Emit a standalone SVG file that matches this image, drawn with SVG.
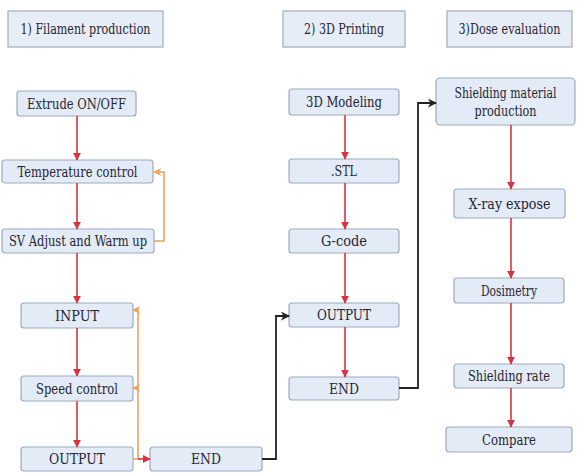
<svg xmlns="http://www.w3.org/2000/svg" width="577" height="473" viewBox="0 0 577 473">
<style>
.hdr{fill:#e6edf7;stroke:#a3abbb;stroke-width:1.2}
.box{fill:#e3ebf6;stroke:#9ea9bb;stroke-width:1.2}
.t{font-family:'DejaVu Serif Condensed','DejaVu Serif',serif;font-stretch:condensed;font-size:14px;fill:#262633;text-anchor:middle;dominant-baseline:central}
.red{stroke:#d8333f;stroke-width:1.6;fill:none}
.org{stroke:#eaa35a;stroke-width:1.6;fill:none}
.blk{stroke:#222;stroke-width:1.8;fill:none}
</style>
<defs>
<marker id="mr" viewBox="0 0 10 10" refX="9" refY="5" markerWidth="5" markerHeight="5" orient="auto"><path d="M0,0L10,5L0,10z" fill="#d8333f"/></marker>
<marker id="mo" viewBox="0 0 10 10" refX="9" refY="5" markerWidth="5" markerHeight="5" orient="auto"><path d="M0,0L10,5L0,10L3,5z" fill="#eaa35a"/></marker>
<marker id="mb" viewBox="0 0 10 10" refX="9" refY="5" markerWidth="5" markerHeight="5" orient="auto"><path d="M0,0L10,5L0,10L3,5z" fill="#222"/></marker>
</defs>
<rect width="577" height="473" fill="#fff"/>
<g class="t">
<g id="h1"><rect class="hdr" x="8" y="11" width="155" height="36"/><text x="85.5" y="29" textLength="130" lengthAdjust="spacingAndGlyphs">1) Filament production</text></g>
<g id="h2"><rect class="hdr" x="283" y="11" width="122" height="36"/><text x="344" y="29" textLength="80" lengthAdjust="spacingAndGlyphs">2) 3D Printing</text></g>
<g id="h3"><rect class="hdr" x="447" y="11" width="125" height="36"/><text x="509.5" y="29" textLength="102" lengthAdjust="spacingAndGlyphs">3)Dose evaluation</text></g>

<g id="n_extrude"><rect class="box" x="17" y="91" width="119" height="25" rx="3"/><text x="76.5" y="103.5" textLength="99" lengthAdjust="spacingAndGlyphs">Extrude ON/OFF</text></g>
<g id="n_temp"><rect class="box" x="2" y="160" width="151" height="23" rx="3"/><text x="77.5" y="171.5" textLength="120" lengthAdjust="spacingAndGlyphs">Temperature control</text></g>
<g id="n_sv"><rect class="box" x="2" y="229" width="152" height="24" rx="3"/><text x="78" y="241" textLength="138" lengthAdjust="spacingAndGlyphs">SV Adjust and Warm up</text></g>
<g id="n_input"><rect class="box" x="21" y="303" width="112" height="25" rx="3"/><text x="77" y="315.5" textLength="44" lengthAdjust="spacingAndGlyphs">INPUT</text></g>
<g id="n_speed"><rect class="box" x="21" y="376" width="112" height="25" rx="3"/><text x="77" y="388.5" textLength="82" lengthAdjust="spacingAndGlyphs">Speed control</text></g>
<g id="n_output1"><rect class="box" x="21" y="447" width="112" height="24" rx="3"/><text x="77" y="459" textLength="56" lengthAdjust="spacingAndGlyphs">OUTPUT</text></g>
<g id="n_end1"><rect class="box" x="150" y="447" width="112" height="24" rx="3"/><text x="206" y="459" textLength="30" lengthAdjust="spacingAndGlyphs">END</text></g>

<g id="n_model"><rect class="box" x="289" y="89" width="110" height="26" rx="3"/><text x="344" y="102" textLength="76" lengthAdjust="spacingAndGlyphs">3D Modeling</text></g>
<g id="n_stl"><rect class="box" x="289" y="159" width="110" height="24" rx="3"/><text x="344" y="171" textLength="26" lengthAdjust="spacingAndGlyphs">.STL</text></g>
<g id="n_gcode"><rect class="box" x="289" y="229" width="110" height="24" rx="3"/><text x="344" y="241" textLength="46" lengthAdjust="spacingAndGlyphs">G-code</text></g>
<g id="n_output2"><rect class="box" x="289" y="303" width="110" height="24" rx="3"/><text x="344" y="315" textLength="54" lengthAdjust="spacingAndGlyphs">OUTPUT</text></g>
<g id="n_end2"><rect class="box" x="289" y="377" width="110" height="23" rx="3"/><text x="344" y="388.5" textLength="30" lengthAdjust="spacingAndGlyphs">END</text></g>

<g id="n_shield"><rect class="box" x="436" y="78" width="139" height="47" rx="4"/><text x="505.5" y="93" textLength="102" lengthAdjust="spacingAndGlyphs">Shielding material</text><text x="505.5" y="111" textLength="62" lengthAdjust="spacingAndGlyphs">production</text></g>
<g id="n_xray"><rect class="box" x="454" y="189" width="111" height="29" rx="3"/><text x="509.5" y="203.5" textLength="82" lengthAdjust="spacingAndGlyphs">X-ray expose</text></g>
<g id="n_dosi"><rect class="box" x="454" y="278" width="110" height="25" rx="3"/><text x="509" y="290.5" textLength="56" lengthAdjust="spacingAndGlyphs">Dosimetry</text></g>
<g id="n_rate"><rect class="box" x="454" y="364" width="110" height="24" rx="3"/><text x="509" y="376" textLength="82" lengthAdjust="spacingAndGlyphs">Shielding rate</text></g>
<g id="n_compare"><rect class="box" x="446" y="427" width="126" height="25" rx="3"/><text x="509" y="439.5" textLength="54" lengthAdjust="spacingAndGlyphs">Compare</text></g>
</g>
<g id="connectors">
<path class="red" marker-end="url(#mr)" d="M77,116V160"/>
<path class="red" marker-end="url(#mr)" d="M77,183V229"/>
<path class="red" marker-end="url(#mr)" d="M77,253V303"/>
<path class="red" marker-end="url(#mr)" d="M77,328V376"/>
<path class="red" marker-end="url(#mr)" d="M77,401V447"/>
<path class="org" marker-end="url(#mo)" d="M154,241H164V172H154"/>
<path class="org" marker-end="url(#mo)" d="M133,459H138V310H133"/>
<path class="org" marker-end="url(#mo)" d="M138,388H133"/>
<path class="red" marker-end="url(#mr)" d="M138,459H150"/>
<path class="blk" marker-end="url(#mb)" d="M262,459H276V316H289"/>
<path class="red" marker-end="url(#mr)" d="M345,115V159"/>
<path class="red" marker-end="url(#mr)" d="M345,183V229"/>
<path class="red" marker-end="url(#mr)" d="M345,253V303"/>
<path class="red" marker-end="url(#mr)" d="M345,327V377"/>
<path class="blk" marker-end="url(#mb)" d="M399,388H418V103H436"/>
<path class="red" marker-end="url(#mr)" d="M511,125V189"/>
<path class="red" marker-end="url(#mr)" d="M511,218V278"/>
<path class="red" marker-end="url(#mr)" d="M511,303V364"/>
<path class="red" marker-end="url(#mr)" d="M511,388V427"/>
</g>
</svg>
